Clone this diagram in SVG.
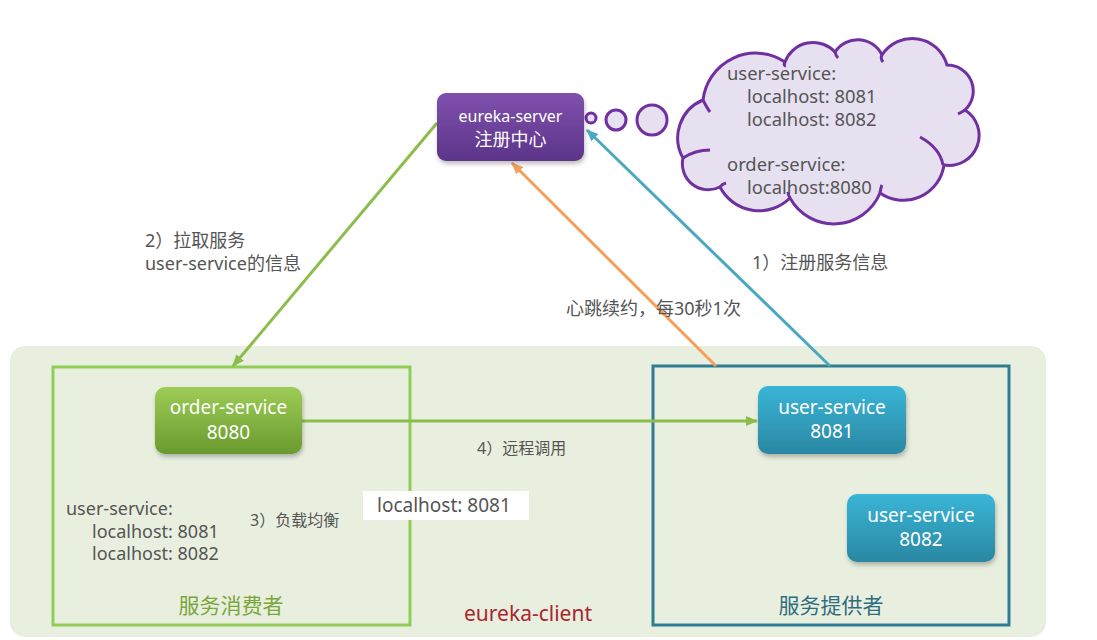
<svg xmlns="http://www.w3.org/2000/svg" width="1097" height="640" viewBox="0 0 1097 640">
<style>
.t{font-family:"Noto Sans","Noto Sans CJK SC",sans-serif;fill:#555555}
.w{font-family:"Noto Sans","Noto Sans CJK SC",sans-serif;fill:#ffffff;text-anchor:middle}
.cloud{fill:#e7e0f1;stroke:#7030a0;stroke-width:3}
.seam{fill:none;stroke:#7030a0;stroke-width:3}
</style>
<defs>
<linearGradient id="gP" x1="0" y1="0" x2="0" y2="1"><stop offset="0" stop-color="#7f51ad"/><stop offset="1" stop-color="#5c3489"/></linearGradient>
<linearGradient id="gG" x1="0" y1="0" x2="0" y2="1"><stop offset="0" stop-color="#9dcd56"/><stop offset="1" stop-color="#6a9a2e"/></linearGradient>
<linearGradient id="gB" x1="0" y1="0" x2="0" y2="1"><stop offset="0" stop-color="#3ab5d7"/><stop offset="1" stop-color="#2a87a2"/></linearGradient>
<filter id="sh" x="-10%" y="-10%" width="130%" height="140%"><feDropShadow dx="1" dy="3" stdDeviation="2" flood-color="#000" flood-opacity="0.25"/></filter>
<marker id="mGreen" markerUnits="userSpaceOnUse" markerWidth="12" markerHeight="10" refX="11" refY="5" orient="auto"><path d="M0,0 L12,5 L0,10 Z" fill="#8cbd4c"/></marker>
<marker id="mTeal" markerUnits="userSpaceOnUse" markerWidth="12" markerHeight="10" refX="11" refY="5" orient="auto"><path d="M0,0 L12,5 L0,10 Z" fill="#4aa9c1"/></marker>
<marker id="mOrange" markerUnits="userSpaceOnUse" markerWidth="12" markerHeight="10" refX="11" refY="5" orient="auto"><path d="M0,0 L12,5 L0,10 Z" fill="#f5a05a"/></marker>
</defs>
<rect width="1097" height="640" fill="#ffffff"/>
<g id="client-area">
<rect x="10" y="346" width="1036" height="291" rx="15" fill="#e9efdf"/>
<rect x="53" y="367" width="357" height="258" fill="none" stroke="#8fcd55" stroke-width="3"/>
<rect x="653" y="366" width="356" height="259" fill="none" stroke="#2f7d93" stroke-width="3"/>
<text class="t" x="231" y="613" font-size="21" text-anchor="middle" style="fill:#7aa63a">服务消费者</text>
<text class="t" x="831" y="613" font-size="21" text-anchor="middle" style="fill:#2d6d80">服务提供者</text>
<text class="t" x="528" y="621" font-size="21" text-anchor="middle" style="fill:#a8262e">eureka-client</text>
</g>
<g id="connectors" fill="none" stroke-width="3">
<line x1="437" y1="123" x2="233" y2="366" stroke="#8cbd4c" marker-end="url(#mGreen)"/>
<line x1="830" y1="366" x2="587" y2="130" stroke="#4aa9c1" marker-end="url(#mTeal)"/>
<line x1="716" y1="366" x2="512" y2="163" stroke="#f5a05a" marker-end="url(#mOrange)"/>
<line x1="300" y1="421" x2="757" y2="421" stroke="#8cbd4c" marker-end="url(#mGreen)"/>
</g>
<g id="labels">
<text class="t" x="145" y="247" font-size="18">2）拉取服务</text>
<text class="t" x="145" y="270" font-size="18">user-service的信息</text>
<text class="t" x="752" y="269" font-size="18">1）注册服务信息</text>
<text class="t" x="566" y="315" font-size="18">心跳续约，每30秒1次</text>
<text class="t" x="477" y="454" font-size="16">4）远程调用</text>
<text class="t" x="250" y="526" font-size="16">3）负载均衡</text>
<text class="t" x="66" y="515" font-size="18">user-service:</text>
<text class="t" x="92" y="537.5" font-size="18">localhost: 8081</text>
<text class="t" x="92" y="560" font-size="18">localhost: 8082</text>
</g>
<g id="localhost-tag">
<rect x="363" y="491" width="166" height="29" fill="#ffffff"/>
<text class="t" x="377" y="512" font-size="19">localhost: 8081</text>
</g>
<g id="registry-cloud">
<circle cx="591" cy="118" r="5" class="cloud" stroke-width="2.5"/>
<circle cx="616" cy="120" r="10" class="cloud"/>
<circle cx="652" cy="120" r="15" class="cloud"/>
<path class="cloud" d="M683,158 A41,41 0 0 1 703,100 A53,53 0 0 1 785,62 A30,30 0 0 1 835,52 A27,27 0 0 1 882,55 A36,36 0 0 1 947,65 A26,26 0 0 1 965,110 A30,30 0 0 1 944,165 A41,41 0 0 1 880,193 A50,50 0 0 1 790,198 A44,44 0 0 1 720,187 A26,26 0 0 1 683,158 Z"/>
<path class="seam" d="M703,100 Q707,108 710,112"/>
<path class="seam" d="M683,158 Q695,150 710,150"/>
<path class="seam" d="M785,62 Q783,66 786,66"/>
<path class="seam" d="M835,52 Q836,56 838,58"/>
<path class="seam" d="M882,55 Q880,58 883,62"/>
<path class="seam" d="M965,110 Q962,112 958,114"/>
<path class="seam" d="M920,137 Q940,148 943,165"/>
<path class="seam" d="M720,187 Q722,184 726,183"/>
<path class="seam" d="M790,198 Q788,195 788,192"/>
<path class="seam" d="M880,193 Q881,187 882,185"/>
<text class="t" x="727" y="80" font-size="18.4">user-service:</text>
<text class="t" x="747" y="103" font-size="18.4">localhost: 8081</text>
<text class="t" x="747" y="126" font-size="18.4">localhost: 8082</text>
<text class="t" x="727" y="171" font-size="18.4">order-service:</text>
<text class="t" x="747" y="194" font-size="18.4">localhost:8080</text>
</g>
<g id="eureka-server">
<rect x="437" y="93" width="147" height="68" rx="9" fill="url(#gP)" filter="url(#sh)"/>
<text class="w" x="510.5" y="122" font-size="16">eureka-server</text>
<text class="w" x="510.5" y="146" font-size="18">注册中心</text>
</g>
<g id="order-service">
<rect x="155" y="387" width="147" height="67" rx="10" fill="url(#gG)" filter="url(#sh)"/>
<text class="w" x="228.5" y="414" font-size="19">order-service</text>
<text class="w" x="228.5" y="439" font-size="19">8080</text>
</g>
<g id="user-service-8081">
<rect x="758" y="386" width="148" height="68" rx="10" fill="url(#gB)" filter="url(#sh)"/>
<text class="w" x="832" y="414" font-size="19">user-service</text>
<text class="w" x="832" y="438" font-size="19">8081</text>
</g>
<g id="user-service-8082">
<rect x="847" y="494" width="148" height="68" rx="10" fill="url(#gB)" filter="url(#sh)"/>
<text class="w" x="921" y="522" font-size="19">user-service</text>
<text class="w" x="921" y="546" font-size="19">8082</text>
</g>
</svg>
